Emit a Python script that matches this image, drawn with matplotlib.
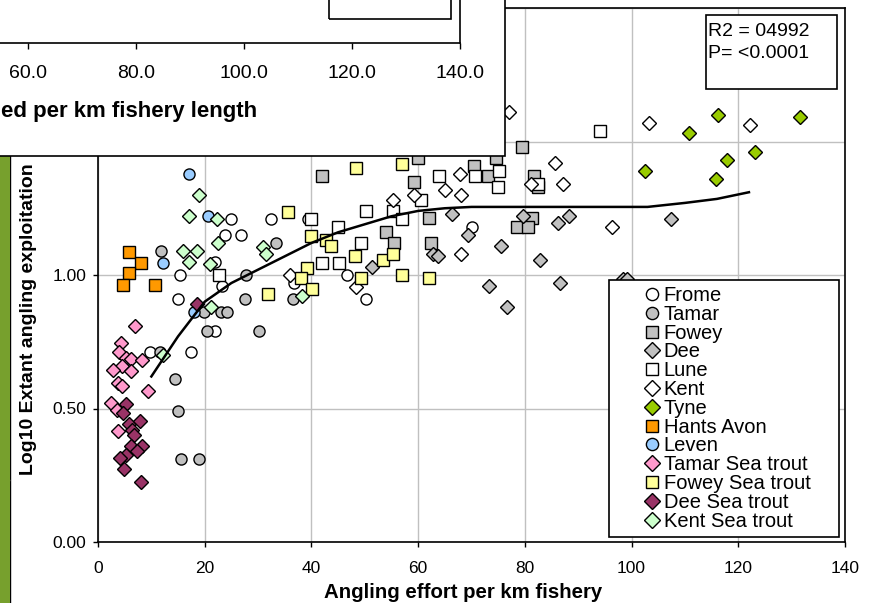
import numpy as np
import matplotlib.pyplot as plt
from matplotlib.patches import Rectangle
from matplotlib.lines import Line2D

plt.rcParams['font.family'] = ['Liberation Sans', 'DejaVu Sans']

# ---- data ----
frome_x = [24.9, 32.4, 23.8, 26.8, 15.3, 21.9, 23.2, 15.0, 9.7, 17.4, 21.9, 39.3, 46.6, 50.3, 36.7, 70.0]
frome_y = [1.21, 1.21, 1.15, 1.15, 1.00, 1.05, 0.96, 0.91, 0.71, 0.71, 0.79, 1.21, 1.00, 0.91, 0.97, 1.18]

tamar_x = [11.8, 27.7, 27.5, 33.3, 19.8, 23.0, 24.1, 20.4, 30.1, 36.5, 11.6, 14.4, 15.0, 15.5, 18.9]
tamar_y = [1.09, 1.00, 0.91, 1.12, 0.86, 0.86, 0.86, 0.79, 0.79, 0.91, 0.71, 0.61, 0.49, 0.31, 0.31]

fowey_x = [79.5, 70.4, 73.0, 81.8, 82.4, 62.1, 81.4, 78.6, 80.5, 62.5, 41.9, 59.3, 53.9, 55.4, 59.9, 74.5]
fowey_y = [1.48, 1.41, 1.37, 1.37, 1.33, 1.215, 1.215, 1.18, 1.18, 1.12, 1.37, 1.35, 1.16, 1.12, 1.44, 1.44]

dee_x = [66.3, 79.7, 86.3, 88.3, 69.4, 75.6, 62.7, 63.8, 82.9, 73.2, 86.5, 76.7, 107.4, 51.3, 98.3, 99.2]
dee_y = [1.23, 1.22, 1.195, 1.22, 1.15, 1.11, 1.08, 1.07, 1.056, 0.96, 0.97, 0.88, 1.21, 1.03, 0.985, 0.985]

lune_x = [94.1, 64.0, 70.7, 75.1, 74.9, 82.5, 60.6, 55.2, 56.9, 50.3, 39.9, 44.9, 49.2, 41.9, 45.1, 22.6]
lune_y = [1.54, 1.37, 1.37, 1.39, 1.33, 1.34, 1.28, 1.24, 1.21, 1.24, 1.21, 1.18, 1.12, 1.045, 1.045, 1.00]

kent_x = [77.1, 103.3, 122.2, 85.7, 81.2, 87.2, 67.9, 65.1, 68.1, 55.2, 59.3, 96.4, 68.1, 35.9, 48.3]
kent_y = [1.61, 1.57, 1.56, 1.42, 1.34, 1.34, 1.38, 1.32, 1.30, 1.28, 1.30, 1.18, 1.08, 1.00, 0.955]

tyne_x = [116.2, 110.8, 131.6, 102.6, 117.9, 115.8, 123.2]
tyne_y = [1.60, 1.53, 1.59, 1.39, 1.43, 1.36, 1.46]

hants_x = [5.8, 8.0, 5.8, 4.7, 10.7]
hants_y = [1.086, 1.045, 1.007, 0.963, 0.963]

leven_x = [17.0, 20.6, 12.2, 18.0]
leven_y = [1.38, 1.22, 1.045, 0.86]

tamar_st_x = [6.9, 4.3, 3.9, 5.2, 6.2, 8.2, 4.5, 6.2, 2.8, 3.7, 4.5, 9.4, 2.4, 3.6, 3.7]
tamar_st_y = [0.81, 0.745, 0.71, 0.69, 0.685, 0.68, 0.66, 0.64, 0.645, 0.595, 0.585, 0.565, 0.52, 0.495, 0.415]

fowey_st_x = [48.3, 56.9, 35.7, 39.9, 42.7, 43.6, 39.1, 38.0, 40.2, 31.8, 48.1, 49.2, 53.5, 55.2, 56.9, 62.1]
fowey_st_y = [1.40, 1.415, 1.235, 1.146, 1.13, 1.11, 1.026, 0.99, 0.948, 0.93, 1.07, 0.99, 1.056, 1.08, 1.00, 0.99]

dee_st_x = [18.5, 5.2, 4.7, 5.8, 7.9, 6.4, 6.7, 6.2, 8.2, 7.3, 5.2, 4.1, 4.9, 8.0]
dee_st_y = [0.89, 0.517, 0.483, 0.442, 0.453, 0.42, 0.40, 0.36, 0.36, 0.34, 0.326, 0.315, 0.273, 0.225]

kent_st_x = [18.9, 17.0, 22.3, 22.5, 15.9, 18.5, 17.0, 21.0, 30.9, 31.4, 21.1, 12.2, 38.2]
kent_st_y = [1.30, 1.22, 1.21, 1.12, 1.09, 1.09, 1.05, 1.04, 1.105, 1.08, 0.88, 0.70, 0.92]

# fitted trend line
fit_x = [10, 15, 20, 25, 30, 35, 40, 45, 50, 55, 60, 65, 70, 103, 110, 116, 122]
fit_y = [0.62, 0.77, 0.90, 0.97, 1.02, 1.07, 1.12, 1.16, 1.19, 1.22, 1.24, 1.25, 1.255, 1.255, 1.27, 1.285, 1.31]

x_ticks = [0, 20, 40, 60, 80, 100, 120, 140]
y_ticks = [0.0, 0.5, 1.0, 1.5, 2.0]
inset_ticks = [60, 80, 100, 120, 140]

stats_lines = ["R2 = 04992", "P= <0.0001"]

series = [
    ("Frome", frome_x, frome_y, 'o', '#ffffff'),
    ("Tamar", tamar_x, tamar_y, 'o', '#c0c0c0'),
    ("Fowey", fowey_x, fowey_y, 's', '#c0c0c0'),
    ("Dee", dee_x, dee_y, 'D', '#c0c0c0'),
    ("Lune", lune_x, lune_y, 's', '#ffffff'),
    ("Kent", kent_x, kent_y, 'D', '#ffffff'),
    ("Tyne", tyne_x, tyne_y, 'D', '#99cc00'),
    ("Hants Avon", hants_x, hants_y, 's', '#ff9900'),
    ("Leven", leven_x, leven_y, 'o', '#99ccff'),
    ("Tamar Sea trout", tamar_st_x, tamar_st_y, 'D', '#ff99cc'),
    ("Fowey Sea trout", fowey_st_x, fowey_st_y, 's', '#ffff99'),
    ("Dee Sea trout", dee_st_x, dee_st_y, 'D', '#993366'),
    ("Kent Sea trout", kent_st_x, kent_st_y, 'D', '#ccffcc'),
]
marker_size = {'o': 8.0, 's': 8.0, 'D': 7.0}

W, H = 876, 603


def fx(px):
    return px / W


def fy(py):
    return 1 - py / H


fig = plt.figure(figsize=(W / 100, H / 100), dpi=100)
ax = fig.add_axes([fx(98), fy(542), fx(845) - fx(98), fy(8) - fy(542)])

for name, xs, ys, mk, col in series:
    ax.plot(xs, ys, linestyle='none', marker=mk, markersize=marker_size[mk],
            markerfacecolor=col, markeredgecolor='black', markeredgewidth=1.0,
            label=name, zorder=3, clip_on=False)

ax.plot(fit_x, fit_y, color='black', lw=1.8, zorder=4)

ax.set_xlim(0, 140)
ax.set_ylim(0, 2.0)
ax.set_xticks(x_ticks)
ax.set_yticks(y_ticks)
ax.set_xticklabels([str(t) for t in x_ticks])
ax.set_yticklabels(["%.2f" % t for t in y_ticks])
ax.grid(True, color='#c0c0c0', lw=1.0, zorder=0)
ax.set_axisbelow(True)
for s in ax.spines.values():
    s.set_linewidth(1.2)
    s.set_color('black')
ax.tick_params(direction='out', length=3.6, width=1.0, labelsize=12.5)
ax.tick_params(axis='x', pad=10)
ax.tick_params(axis='y', pad=5)

fig.text(fx(463), fy(592), "Angling effort per km fishery", fontsize=14.7,
         fontweight='bold', ha='center', va='center')
fig.text(fx(29), fy(475), "Log10 Extant angling exploitation", rotation=90,
         fontsize=14, fontweight='bold', ha='center', va='bottom')

# R2 box
fig.patches.append(Rectangle((fx(706), fy(89)), fx(837) - fx(706), fy(15) - fy(89),
                             transform=fig.transFigure, facecolor='white',
                             edgecolor='black', lw=1.2, zorder=4))
for line, ypx in zip(stats_lines, [31, 53]):
    fig.text(fx(708), fy(ypx), line, fontsize=14, ha='left', va='center', zorder=5)

# legend
fig.patches.append(Rectangle((fx(609), fy(537)), fx(839) - fx(609), fy(280) - fy(537),
                             transform=fig.transFigure, facecolor='white',
                             edgecolor='black', lw=1.2, zorder=4))
leg = fig.legend(loc='upper left', bbox_to_anchor=(fx(643), fy(286)),
                 frameon=False, fontsize=14.5, handlelength=0.85, handletextpad=0.17,
                 labelspacing=-0.01, borderpad=0, borderaxespad=0, markerscale=1.1)
leg.set_zorder(6)

# green strip on the far left
fig.patches.append(Rectangle((0, 0), fx(10), fy(156), transform=fig.transFigure,
                             facecolor='#77a02d', edgecolor='none', zorder=2))
fig.add_artist(Line2D([fx(10), fx(10)], [0, fy(156)], color='black', lw=1.0, zorder=2))
fig.add_artist(Line2D([0, fx(9)], [fy(480), fy(480)], color='#cdd8b8', lw=1.0, zorder=2))

# overlapping panel of another chart in the top-left corner
fig.patches.append(Rectangle((fx(-10), fy(156)), fx(515), fy(-10) - fy(156),
                             transform=fig.transFigure, facecolor='white',
                             edgecolor='black', lw=1.2, zorder=7))
ax2 = fig.add_axes([0, fy(43), fx(460), 0.12], zorder=8)
ax2.patch.set_alpha(0)
ax2.set_xlim(60 - 28 / 5.4, 140)
ax2.set_ylim(0, 1)
ax2.set_xticks(inset_ticks)
ax2.set_xticklabels(["%.1f" % t for t in inset_ticks])
ax2.set_yticks([])
ax2.spines['left'].set_visible(False)
ax2.spines['top'].set_visible(False)
ax2.spines['bottom'].set_linewidth(1.2)
ax2.spines['right'].set_linewidth(1.2)
ax2.tick_params(axis='x', direction='out', length=4.5, width=1.0, labelsize=14, pad=11)
ax2.add_patch(Rectangle((fx(329), fy(19)), fx(451) - fx(329), 0.2,
                        transform=fig.transFigure, facecolor='none',
                        edgecolor='black', lw=1.2))
fig.text(fx(1), fy(112), "ed per km fishery length", fontsize=16, fontweight='bold',
         ha='left', va='center', zorder=9)

fig.savefig("out.png", dpi=100)
